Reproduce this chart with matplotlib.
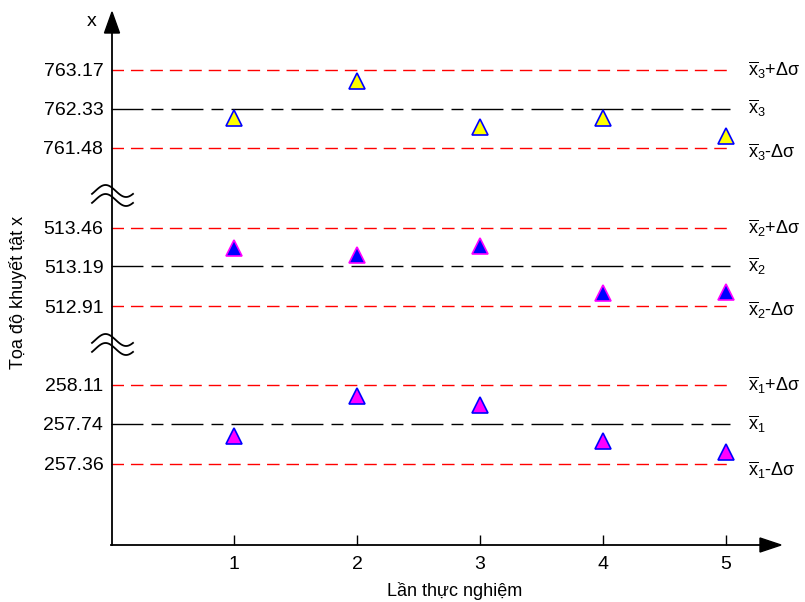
import numpy as np
import matplotlib
matplotlib.use("Agg")
import matplotlib.pyplot as plt
from matplotlib.lines import Line2D
from matplotlib.patches import Polygon

plt.rcParams['font.family'] = ['Liberation Sans', 'DejaVu Sans']
plt.rcParams['mathtext.fontset'] = 'custom'
plt.rcParams['mathtext.rm'] = 'Liberation Sans'
plt.rcParams['mathtext.it'] = 'Liberation Sans'

# data
runs = [1, 2, 3, 4, 5]
x1 = [257.63, 258.01, 257.92, 257.58, 257.47]
x2 = [513.32, 513.27, 513.33, 513.00, 513.01]
x3 = [762.12, 762.93, 761.94, 762.12, 761.75]
means = [257.74, 513.19, 762.33]
uppers = [258.11, 513.46, 763.17]
lowers = [257.36, 512.91, 761.48]
ylims = [(256.591, 258.347), (512.741, 513.657), (761.003, 763.82)]

W, H = 805, 602
fig = plt.figure(figsize=(W / 100, H / 100), dpi=100)


def px(x, y):
    return x / W, 1 - y / H


def band_axes(top, bottom):
    return fig.add_axes([111 / W, 1 - bottom / H, 669 / W, (bottom - top) / H])


ax1 = band_axes(360, 545)
ax2 = band_axes(200, 330)
ax3 = band_axes(40, 170)
bands = [(ax1, x1, '#ff00ff', '#0000ff'),
         (ax2, x2, '#0000ff', '#ff00ff'),
         (ax3, x3, '#ffff00', '#0000ff')]

for i, (ax, vals, fc, ec) in enumerate(bands):
    ax.patch.set_alpha(0)
    for s in ax.spines.values():
        s.set_visible(False)
    ax.set_xlim(0, 669 / 123)
    ax.set_ylim(*ylims[i])
    xend = 5.03
    ax.plot([0, xend], [uppers[i]] * 2, color='#ff0000', lw=1.0, dashes=(9, 5))
    ax.plot([0, xend], [lowers[i]] * 2, color='#ff0000', lw=1.0, dashes=(9, 5))
    ax.plot([0, xend], [means[i]] * 2, color='black', lw=1.0, dashes=(23, 5.8, 8.6, 5.8))
    ax.plot(runs, vals, linestyle='none', marker='^', ms=11, mfc=fc, mec=ec, mew=1.2)
    ax.set_yticks([lowers[i], means[i], uppers[i]])
    ax.set_yticklabels(['%.2f' % v for v in [lowers[i], means[i], uppers[i]]])
    ax.tick_params(axis='y', length=0, pad=5.5, labelsize=14)
    k = i + 1
    for y, suf in [(uppers[i], '+Δσ'), (means[i], ''), (lowers[i], '-Δσ')]:
        dy = -0.12 if suf == '-Δσ' else 0.0
        ax.text(5.18, y + dy * (ylims[i][1] - ylims[i][0]) / 3.5,
                r'$\overline{\mathrm{x}}_{%d}$' % k + suf,
                fontsize=13, ha='left', va='center', clip_on=False)
    if i == 0:
        ax.set_xticks(runs)
        ax.tick_params(axis='x', direction='in', length=7.5, width=1, pad=8, labelsize=14)
    else:
        ax.set_xticks([])

# axis lines and arrows
fig.add_artist(Line2D(*zip(px(111, 545), px(762, 545)), color='black', lw=1.3))
fig.add_artist(Polygon([px(760, 538), px(781, 545), px(760, 552)], closed=True,
                       transform=fig.transFigure, color='black'))
fig.add_artist(Line2D(*zip(px(112, 545), px(112, 30)), color='black', lw=1.3))
fig.add_artist(Polygon([px(104.5, 33), px(112, 12), px(119.5, 33)], closed=True,
                       transform=fig.transFigure, color='black'))

# break marks
t = np.linspace(0, 1, 60)
for yc in [191, 340]:
    for off in [0, 9]:
        xs = 92 + 41 * t
        ys = yc + off - 6 * np.sin(2 * np.pi * (t - 0.08))
        pts = [px(a, b) for a, b in zip(xs, ys)]
        fig.add_artist(Line2D([p[0] for p in pts], [p[1] for p in pts], color='black', lw=1.3))

fig.text(*px(92, 22), 'x', fontsize=14, ha='center', va='center')
fig.text(*px(18, 292), 'Tọa độ khuyết tật x', fontsize=13, rotation=90, ha='center', va='center')
fig.text(*px(455, 591), 'Lần thực nghiệm', fontsize=13, ha='center', va='center')

fig.savefig('out.png', dpi=100)
